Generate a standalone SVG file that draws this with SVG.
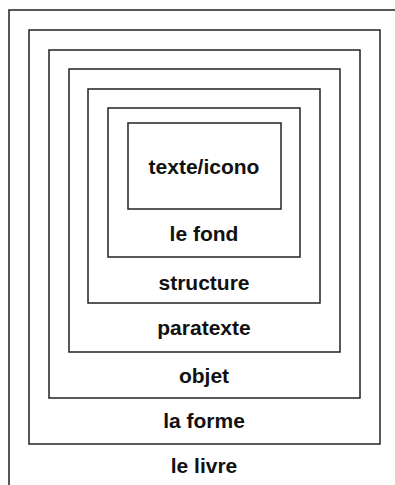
<svg xmlns="http://www.w3.org/2000/svg" width="395" height="485" viewBox="0 0 395 485">
  <style>
    .frame { fill: none; stroke: #222; stroke-width: 1.5; }
    .label { font-family: "Liberation Sans", Arial, sans-serif; font-weight: bold; font-size: 21px; fill: #111; text-anchor: middle; }
  </style>
  <rect width="395" height="485" fill="#fff"/>
  <!-- nested layers, outermost first -->
  <g id="le-livre">
    <rect class="frame" x="9" y="10" width="400" height="490"/>
    <text class="label" x="204" y="473">le livre</text>
  </g>
  <g id="la-forme">
    <rect class="frame" x="29" y="30" width="351" height="414"/>
    <text class="label" x="204" y="428">la forme</text>
  </g>
  <g id="objet">
    <rect class="frame" x="49" y="50" width="311" height="348"/>
    <text class="label" x="204" y="383">objet</text>
  </g>
  <g id="paratexte">
    <rect class="frame" x="69" y="69" width="271" height="283"/>
    <text class="label" x="204" y="335">paratexte</text>
  </g>
  <g id="structure">
    <rect class="frame" x="88" y="89" width="232" height="214"/>
    <text class="label" x="204" y="290">structure</text>
  </g>
  <g id="le-fond">
    <rect class="frame" x="108" y="108" width="192" height="149"/>
    <text class="label" x="204" y="241">le fond</text>
  </g>
  <g id="texte-icono">
    <rect class="frame" x="128" y="123" width="153" height="86"/>
    <text class="label" x="204" y="174">texte/icono</text>
  </g>
  <g id="connectors"/>
</svg>
